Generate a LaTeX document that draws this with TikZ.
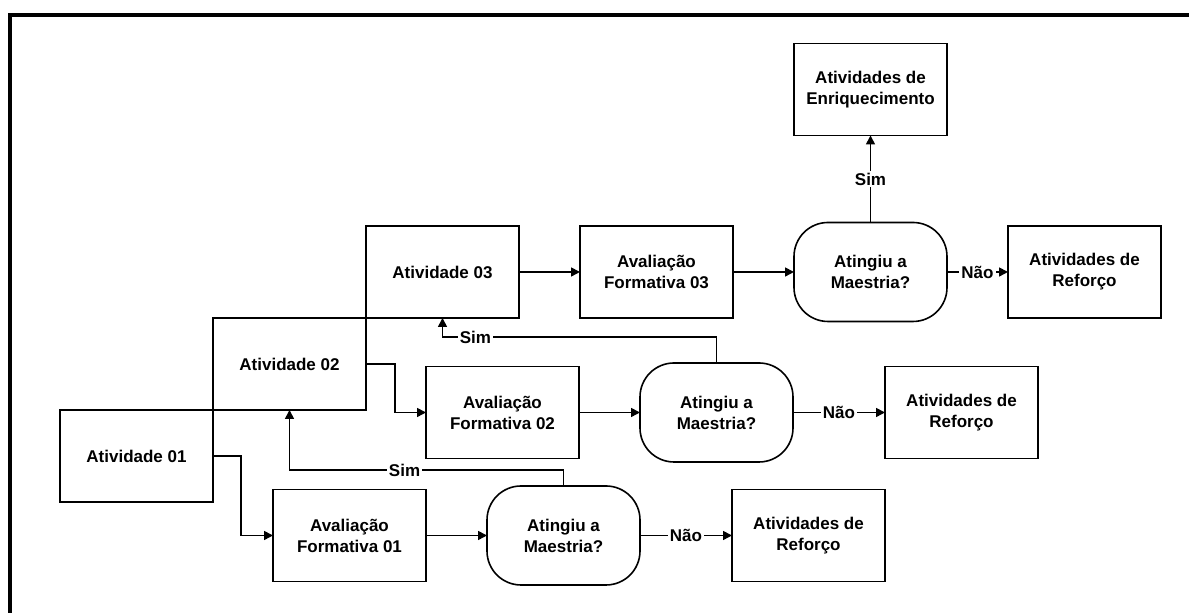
\documentclass[tikz,border=0pt]{standalone}
\usepackage{fontspec}
\setmainfont{Liberation Sans}
\usetikzlibrary{arrows.meta,positioning}
\tikzset{
    bloco/.style={
        rectangle,
        draw,
        line width=0.8pt,
        align=center,
        outer sep=0pt,
        minimum width=76.5pt,
        minimum height=46pt,
        font=\bfseries\fontsize{8.5}{10.5}\selectfont
    },
    decisao/.style={bloco, rounded corners=17pt, minimum height=49.5pt},
    fluxo/.style={-{Triangle[length=4.5pt,width=4.5pt]}, line width=0.8pt},
    rotulo/.style={fill=white, inner sep=1pt, font=\bfseries\fontsize{8.5}{10.5}\selectfont},
    moldura/.style={line width=2pt}
}

\begin{document}
\begin{tikzpicture}[node distance=30.5pt]
    \useasboundingbox (0,0) rectangle (594.5pt,306.5pt);
    \draw[moldura] (4.75pt,-5pt) |- (600pt,299pt);

    % atividades em escada
    \node[bloco] (ativ1) at (68.25pt,78.5pt) {Atividade 01};
    \node[bloco, above right=0pt and 0pt of ativ1] (ativ2) {Atividade 02};
    \node[bloco, above right=0pt and 0pt of ativ2] (ativ3) {Atividade 03};

    % linha 1
    \node[bloco] (aval1) at (174.75pt,38.75pt) {Avaliação\\Formativa 01};
    \node[decisao, right=of aval1] (maest1) {Atingiu a\\Maestria?};
    \node[bloco, right=46pt of maest1] (reforco1) {Atividades de\\Reforço};

    % linha 2
    \node[bloco, above right=15.5pt and 0pt of aval1] (aval2) {Avaliação\\Formativa 02};
    \node[decisao, right=of aval2] (maest2) {Atingiu a\\Maestria?};
    \node[bloco, right=46pt of maest2] (reforco2) {Atividades de\\Reforço};

    % linha 3
    \node[bloco, right=of ativ3] (aval3) {Avaliação\\Formativa 03};
    \node[decisao, right=of aval3] (maest3) {Atingiu a\\Maestria?};
    \node[bloco, right=of maest3] (reforco3) {Atividades de\\Reforço};
    \node[bloco, above=43.5pt of maest3] (enriq) {Atividades de\\Enriquecimento};

    \draw[fluxo] (ativ1.east) -- ++(14pt,0) |- (aval1.west);
    \draw[fluxo] (ativ2.east) -- ++(14.5pt,0) |- (aval2.west);
    \draw[fluxo] (ativ3) -- (aval3);
    \draw[fluxo] (aval1) -- (maest1);
    \draw[fluxo] (aval2) -- (maest2);
    \draw[fluxo] (aval3) -- (maest3);
    \draw[fluxo] (maest1) -- node[rotulo] {Não} (reforco1);
    \draw[fluxo] (maest2) -- node[rotulo] {Não} (reforco2);
    \draw[fluxo] (maest3) -- node[rotulo] {Não} (reforco3);
    \draw[fluxo] (maest3) -- node[rotulo] {Sim} (enriq);
    \draw[fluxo] (maest2.north) -- ++(0,13pt) -| node[rotulo, pos=0.44] {Sim} (ativ3.south);
    \draw[fluxo] (maest1.north) -- ++(0,8pt) -| node[rotulo, pos=0.29] {Sim} (ativ2.south);
\end{tikzpicture}
\end{document}
